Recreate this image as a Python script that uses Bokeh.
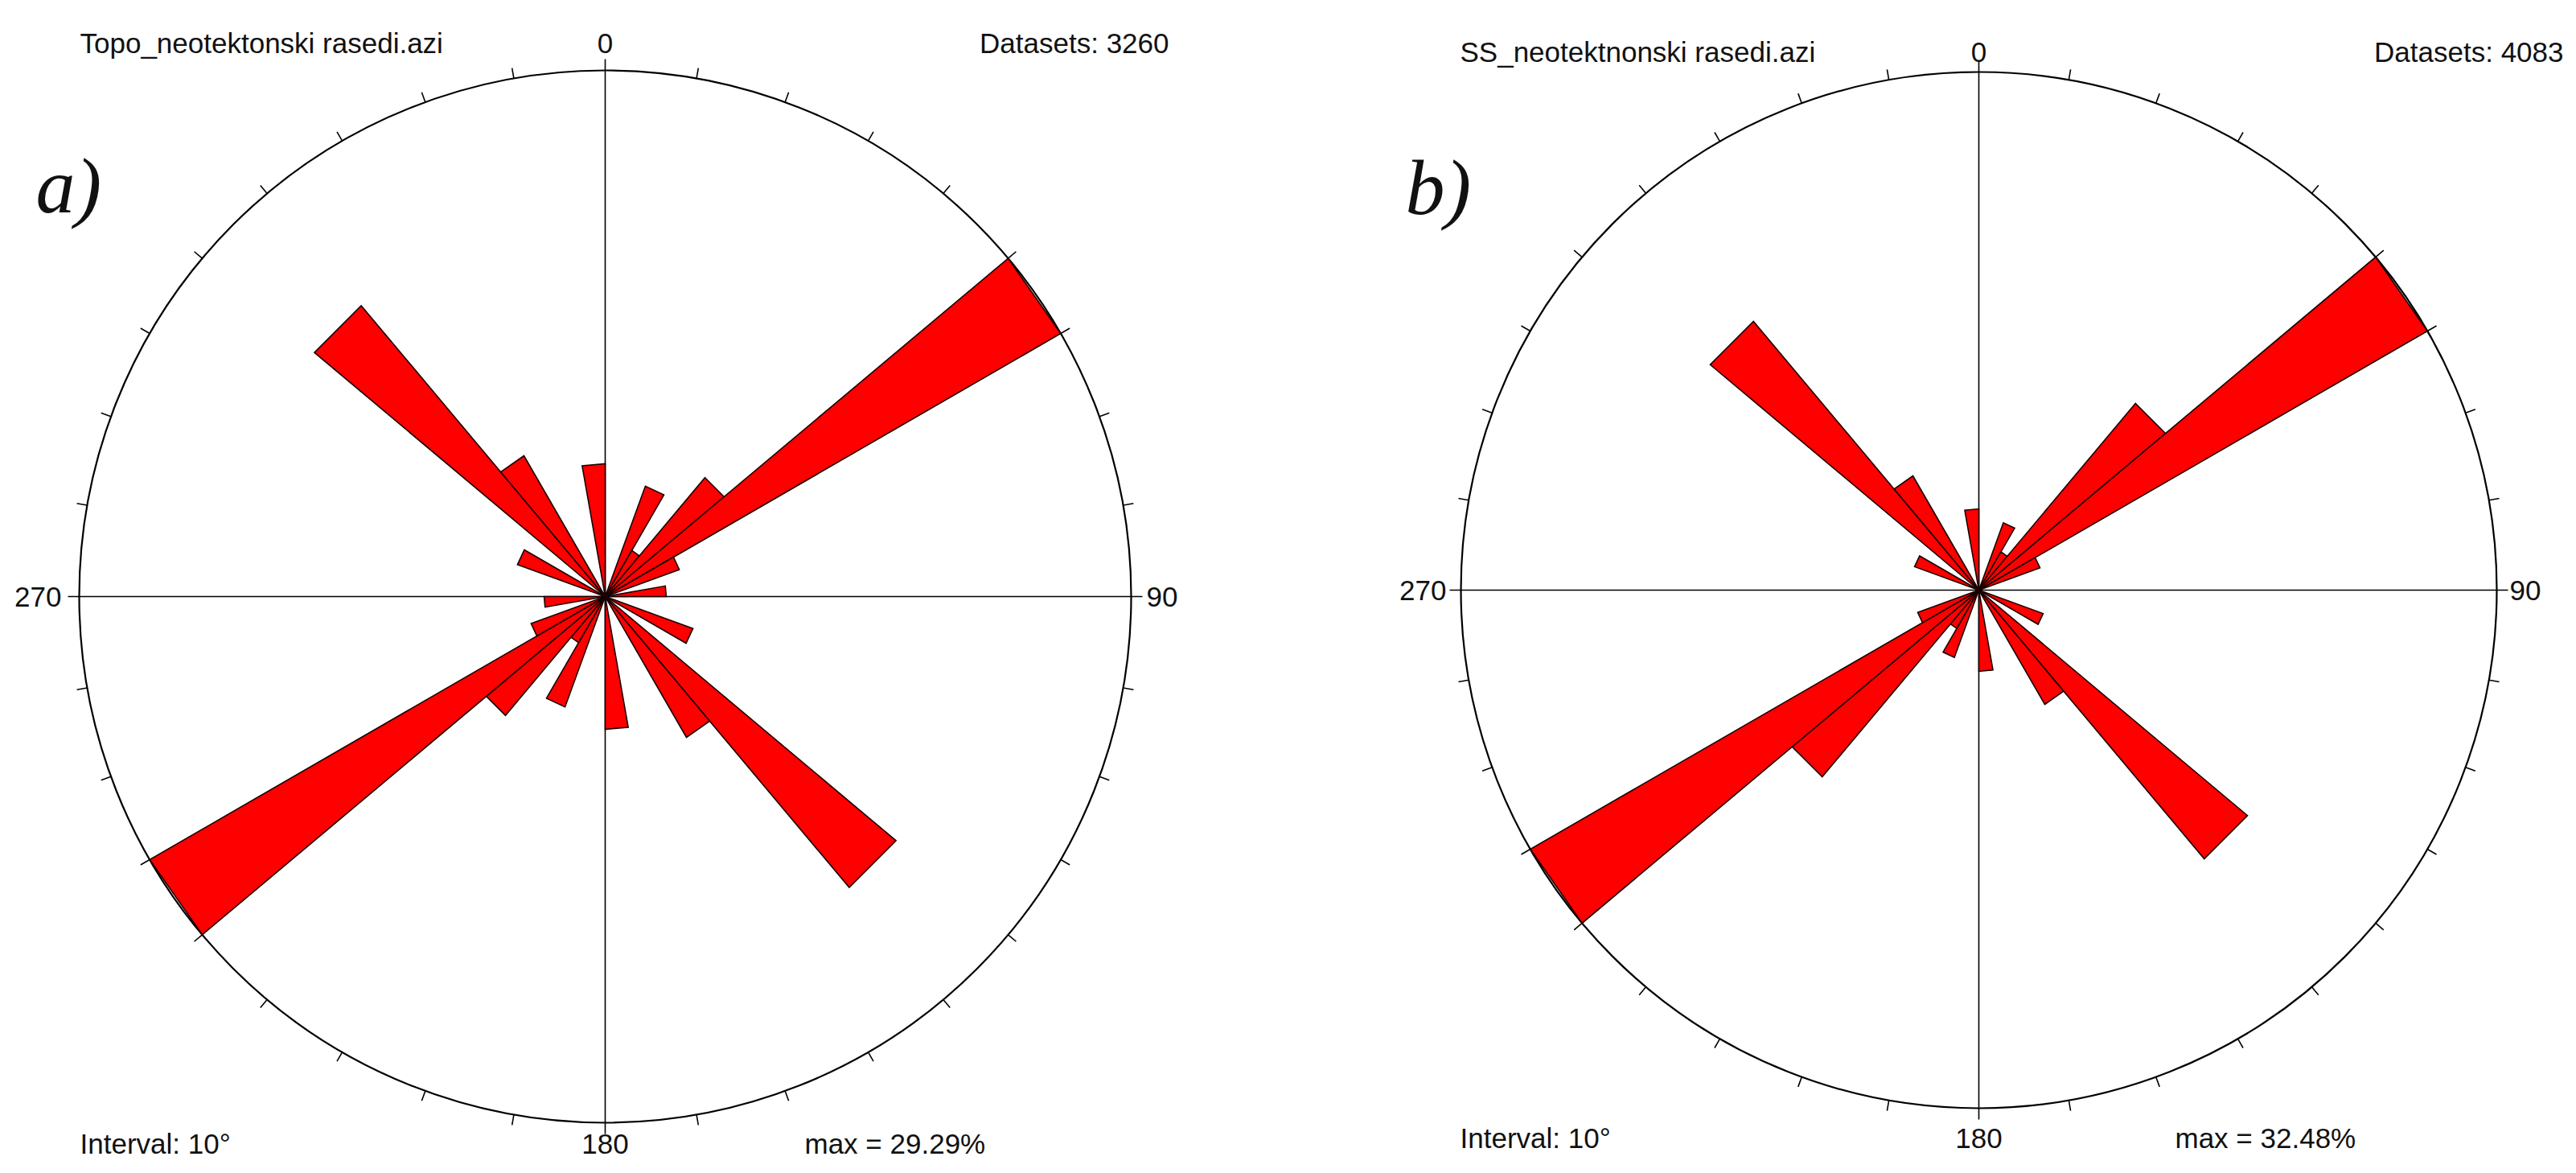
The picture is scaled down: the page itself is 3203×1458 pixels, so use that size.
import numpy as np
from bokeh.plotting import figure
from bokeh.models import Range1d, Label, ColumnDataSource
from bokeh.layouts import row
from bokeh.embed import file_html
from bokeh.resources import INLINE

# ---------------- data ----------------
bin_start = list(range(0, 180, 10))          # azimuth bins (axial data, mirrored +180)
interval = 10

topo_name = "Topo_neotektonski rasedi.azi"
topo_datasets = 3260
topo_max = 29.29
topo_pct = [0.2, 0.2, 6.54, 2.96, 8.64, 29.29, 4.39, 0.2, 3.40,
            0.2, 0.2, 5.20, 0.3, 21.14, 9.05, 0.2, 0.2, 7.39]

ss_name = "SS_neotektnonski rasedi.azi"
ss_datasets = 4083
ss_max = 32.48
ss_pct = [0.15, 0.15, 4.49, 2.77, 15.28, 32.48, 4.08, 0.15, 0.15,
          0.15, 0.15, 4.29, 0.15, 21.99, 8.27, 0.15, 0.15, 5.09]

dir_labels = ["0", "90", "180", "270"]

FONT = "Liberation Sans"
FS = "35px"


def make_rose(name, pct, datasets, maxv, letter, W, H, off_x, cx, cy, R, top_y, bot_y,
              left_txt_x, right_txt_x, max_x, lbl270_x, lbl90_x, letter_x, letter_y):
    cxp, cyp = cx - off_x, cy - 8
    s = R / maxv                    # px per percent
    p = figure(width=W, height=H, output_backend="svg", toolbar_location=None,
               x_range=Range1d(-cxp / s, (W - cxp) / s),
               y_range=Range1d((cyp - H) / s, cyp / s),
               min_border=0, x_axis_location=None, y_axis_location=None)
    p.grid.visible = False
    p.outline_line_color = None
    p.background_fill_color = "white"

    def dx(px):
        return (px - off_x - cxp) / s

    def dy(py):
        return (cyp - (py - 8)) / s

    # outer circle
    p.circle(x=[0], y=[0], radius=maxv, fill_color=None, line_color="black", line_width=2.2)

    # cross axes
    ext = maxv + 14 / s
    p.segment(x0=[-ext, 0], y0=[0, -ext], x1=[ext, 0], y1=[0, ext],
              line_color="black", line_width=1.6)

    # ticks every 10 deg
    tk = [a for a in range(0, 360, interval) if a % 90 != 0]
    th = np.radians(tk)
    r0, r1 = maxv, maxv + 13 / s
    p.segment(x0=r0 * np.sin(th), y0=r0 * np.cos(th), x1=r1 * np.sin(th), y1=r1 * np.cos(th),
              line_color="black", line_width=1.6)

    # petals (bidirectional), straight outer edge
    a0 = np.array(bin_start + [b + 180 for b in bin_start], dtype=float)
    vals = np.array(list(pct) + list(pct))
    t0 = np.radians(a0)
    t1 = np.radians(a0 + interval)
    xs = [[0.0, v * np.sin(u0), v * np.sin(u1)] for v, u0, u1 in zip(vals, t0, t1)]
    ys = [[0.0, v * np.cos(u0), v * np.cos(u1)] for v, u0, u1 in zip(vals, t0, t1)]
    src = ColumnDataSource(dict(xs=xs, ys=ys))
    p.patches(xs="xs", ys="ys", source=src, fill_color="#ff0000",
              line_color="#1a0000", line_width=1.6, line_join="miter")

    def lab(x, y, t, align, size=FS, font=FONT, style="normal", baseline="middle"):
        p.add_layout(Label(x=x, y=y, text=t, text_font=font, text_font_size=size,
                           text_align=align, text_baseline=baseline, text_color="#111111",
                           text_font_style=style))

    lab(dx(left_txt_x), dy(top_y), name, "left")
    lab(0, dy(top_y), dir_labels[0], "center")
    lab(dx(right_txt_x), dy(top_y), "Datasets: %d" % datasets, "right")
    lab(dx(left_txt_x), dy(bot_y), "Interval: %d\u00b0" % interval, "left")
    lab(0, dy(bot_y), dir_labels[2], "center")
    lab(dx(max_x), dy(bot_y), "max = %.2f%%" % maxv, "left")
    lab(dx(lbl270_x), 0, dir_labels[3], "right")
    lab(dx(lbl90_x), 0, dir_labels[1], "left")
    lab(dx(letter_x), dy(letter_y), letter, "left", size="98px", font="Liberation Serif",
        style="italic", baseline="alphabetic")
    return p


p1 = make_rose(topo_name, topo_pct, topo_datasets, topo_max, "a)",
               W=1600, H=1442, off_x=8, cx=760, cy=749, R=654, top_y=61, bot_y=1429,
               left_txt_x=107, right_txt_x=1461, max_x=1008, lbl270_x=84, lbl90_x=1433,
               letter_x=52, letter_y=238)
p2 = make_rose(ss_name, ss_pct, ss_datasets, ss_max, "b)",
               W=1587, H=1442, off_x=1608, cx=2468, cy=741, R=644, top_y=72, bot_y=1422,
               left_txt_x=1823, right_txt_x=3195, max_x=2712, lbl270_x=1806, lbl90_x=3128,
               letter_x=1755, letter_y=240)

layout = row(p1, p2, spacing=0)
open("out.html", "w").write(file_html(layout, INLINE))
